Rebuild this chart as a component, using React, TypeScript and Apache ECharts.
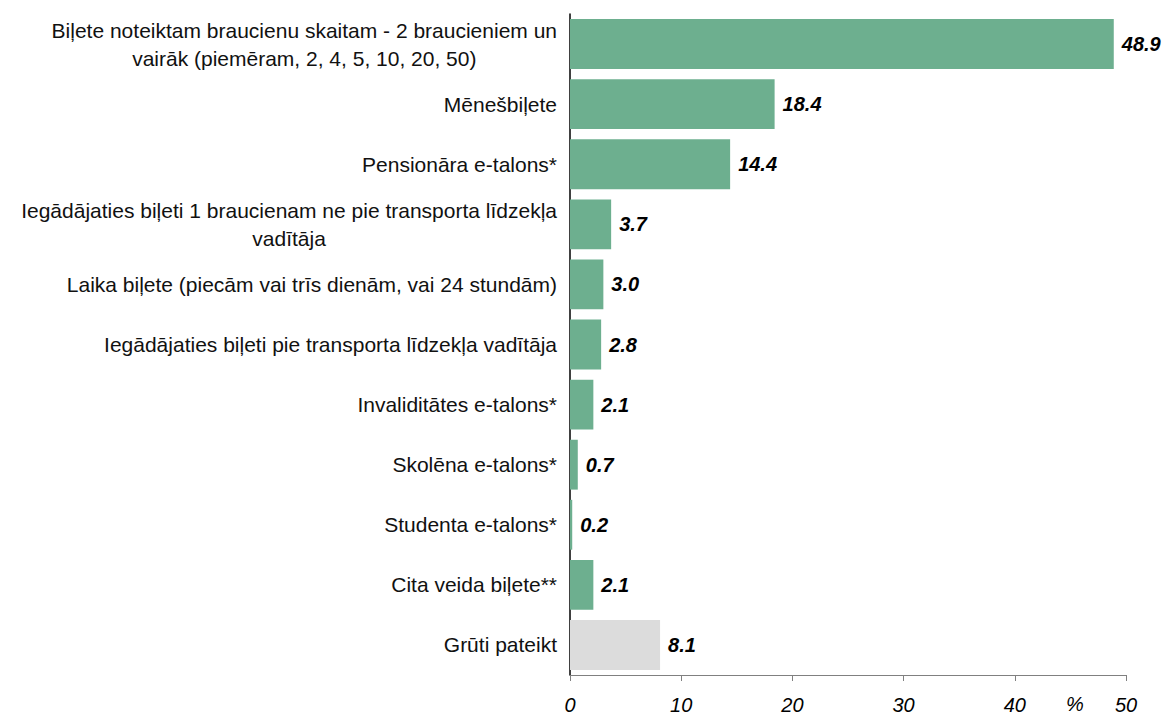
import React, { useEffect, useRef } from "react";
import * as echarts from "echarts";

const categories = [
  "Biļete noteiktam braucienu skaitam - 2 braucieniem un\nvairāk (piemēram, 2, 4, 5, 10, 20, 50)",
  "Mēnešbiļete",
  "Pensionāra e-talons*",
  "Iegādājaties biļeti 1 braucienam ne pie transporta līdzekļa\nvadītāja",
  "Laika biļete (piecām vai trīs dienām, vai 24 stundām)",
  "Iegādājaties biļeti pie transporta līdzekļa vadītāja",
  "Invaliditātes e-talons*",
  "Skolēna e-talons*",
  "Studenta e-talons*",
  "Cita veida biļete**",
  "Grūti pateikt",
];
const values = [48.9, 18.4, 14.4, 3.7, 3.0, 2.8, 2.1, 0.7, 0.2, 2.1, 8.1];
const barColors = [
  "#6daf8f", "#6daf8f", "#6daf8f", "#6daf8f", "#6daf8f", "#6daf8f",
  "#6daf8f", "#6daf8f", "#6daf8f", "#6daf8f", "#dcdcdc",
];
const xTicks = { min: 0, max: 50, interval: 10 };
const unitLabel = "%";
const FONT = "Liberation Sans, Arial, sans-serif";

export default function App() {
  const ref = useRef<HTMLDivElement>(null);
  useEffect(() => {
    document.body.style.margin = "0";
    const chart = echarts.init(ref.current!, null, { renderer: "svg" });
    chart.setOption({
      animation: false,
      grid: { left: 570, right: 37, top: 14, bottom: 39, containLabel: false },
      xAxis: {
        type: "value",
        min: xTicks.min,
        max: xTicks.max,
        interval: xTicks.interval,
        splitLine: { show: false },
        axisLine: { show: true, lineStyle: { color: "#808080", width: 1 } },
        axisTick: { show: true, length: 6, lineStyle: { color: "#808080" } },
        axisLabel: {
          color: "#000",
          fontSize: 20,
          fontStyle: "italic",
          fontFamily: FONT,
          margin: 20,
        },
      },
      yAxis: {
        type: "category",
        inverse: true,
        data: categories,
        axisLine: { show: true, lineStyle: { color: "#000", width: 1.5 } },
        axisTick: { show: false },
        axisLabel: {
          margin: 13,
          formatter: (v: string) =>
            v.split("\n").map((l) => `{c|${l}}`).join("\n"),
          rich: {
            c: {
              align: "center",
              fontSize: 21,
              lineHeight: 28,
              color: "#111",
              fontFamily: FONT,
            },
          },
        },
      },
      series: [
        {
          type: "bar",
          data: values.map((v, i) => ({ value: v, itemStyle: { color: barColors[i] } })),
          barCategoryGap: "17%",
          label: {
            show: true,
            position: "right",
            distance: 8,
            formatter: (p: any) => p.value.toFixed(1),
            color: "#000",
            fontSize: 20,
            fontWeight: "bold",
            fontStyle: "italic",
            fontFamily: FONT,
          },
        },
      ],
      graphic: [
        {
          type: "text",
          left: 1066,
          top: 694,
          style: {
            text: unitLabel,
            fill: "#000",
            fontSize: 20,
            fontStyle: "italic",
            fontFamily: FONT,
          },
        },
      ],
    });
    return () => chart.dispose();
  }, []);
  return <div ref={ref} style={{ width: 1163, height: 715 }} />;
}
